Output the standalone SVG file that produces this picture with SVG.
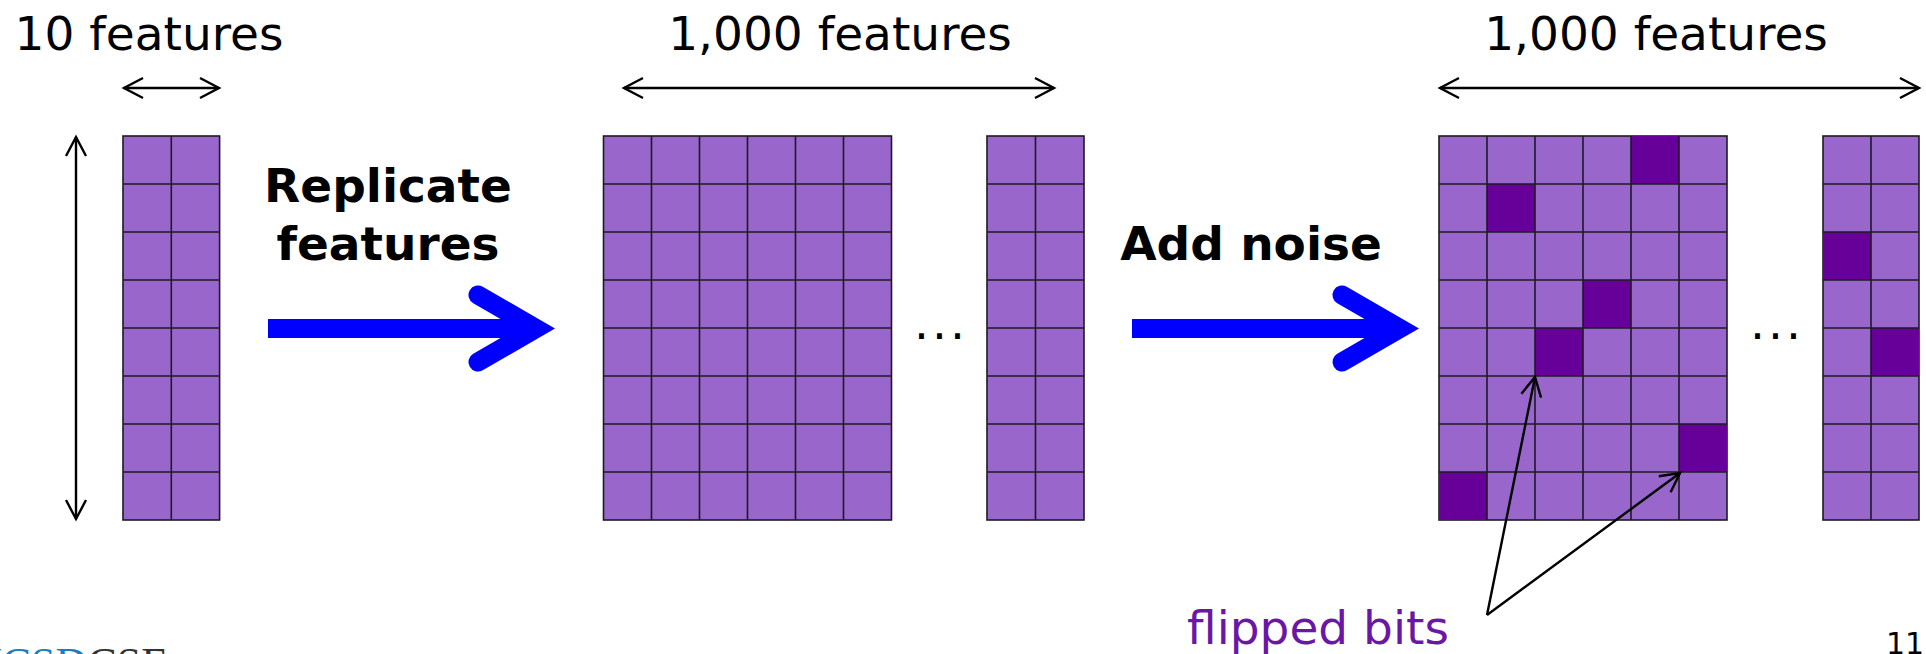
<svg xmlns="http://www.w3.org/2000/svg" width="1926" height="654" viewBox="0 0 1926 654">
  <style>
    .lbl { font-family: "DejaVu Sans", Verdana, sans-serif; font-size: 47px; fill: #000; }
    .bold { font-family: "DejaVu Sans", Verdana, sans-serif; font-size: 47px; font-weight: bold; fill: #000; }
    .cell { fill: #9966CC; stroke: #1e1a24; stroke-width: 1.6; }
    .flip { fill: #660099; }
    .gridline { fill: none; stroke: #1e1a24; stroke-width: 1.6; }
    .dim { fill: none; stroke: #000; stroke-width: 2.4; marker-start: url(#open); marker-end: url(#open); }
    .ptr { fill: none; stroke: #000; stroke-width: 2.4; marker-end: url(#open); }
    .blue-shaft { fill: #0000FF; }
    .blue-head { fill: none; stroke: #0000FF; stroke-width: 19; stroke-linecap: round; stroke-linejoin: miter; }
  </style>
  <defs>
    <marker id="open" markerUnits="userSpaceOnUse" markerWidth="30" markerHeight="30" viewBox="-25 -15 30 30" refX="0" refY="0" orient="auto-start-reverse">
      <path d="M -19 -10 L 0 0 L -19 10" fill="none" stroke="#000" stroke-width="2.4"/>
    </marker>
  </defs>

  <rect width="1926" height="654" fill="#FFFFFF"/>

  <!-- dimension labels -->
  <g id="label-10">
    <text class="lbl" x="149" y="50" text-anchor="middle">10 features</text>
  </g>
  <g id="label-1000-a">
    <text class="lbl" x="840" y="50" text-anchor="middle">1,000 features</text>
  </g>
  <g id="label-1000-b">
    <text class="lbl" x="1656" y="50" text-anchor="middle">1,000 features</text>
  </g>

  <!-- original 10-feature matrix -->
  <g id="matrix-original">
    <rect class="cell" x="123" y="136" width="96.6" height="384"/>
    <path class="gridline" d="M171.3 136V520M123 184h96.6M123 232h96.6M123 280h96.6M123 328h96.6M123 376h96.6M123 424h96.6M123 472h96.6"/>
  </g>

  <!-- step 1 -->
  <g id="step-replicate">
    <text class="bold" x="388" y="202" text-anchor="middle">Replicate</text>
    <text class="bold" x="388" y="260" text-anchor="middle">features</text>
    <rect class="blue-shaft" x="268" y="319" width="262" height="19"/>
    <polyline class="blue-head" points="478,295 536,328.5 478,362"/>
  </g>

  <!-- replicated matrix -->
  <g id="matrix-replicated">
    <rect class="cell" x="603.5" y="136" width="288" height="384"/>
    <path class="gridline" d="M651.5 136V520M699.5 136V520M747.5 136V520M795.5 136V520M843.5 136V520M603.5 184h288M603.5 232h288M603.5 280h288M603.5 328h288M603.5 376h288M603.5 424h288M603.5 472h288"/>
    <text class="lbl" x="914" y="339" letter-spacing="3">...</text>
    <rect class="cell" x="987" y="136" width="97" height="384"/>
    <path class="gridline" d="M1035.5 136V520M987 184h97M987 232h97M987 280h97M987 328h97M987 376h97M987 424h97M987 472h97"/>
  </g>

  <!-- step 2 -->
  <g id="step-noise">
    <text class="bold" x="1251" y="260" text-anchor="middle">Add noise</text>
    <rect class="blue-shaft" x="1132" y="319" width="262" height="19"/>
    <polyline class="blue-head" points="1342,295 1400,328.5 1342,362"/>
  </g>

  <!-- noisy matrix -->
  <g id="matrix-noisy">
    <rect class="cell" x="1439" y="136" width="288" height="384"/>
    <rect class="flip" x="1631" y="136" width="48" height="48"/>
    <rect class="flip" x="1487" y="184" width="48" height="48"/>
    <rect class="flip" x="1583" y="280" width="48" height="48"/>
    <rect class="flip" x="1535" y="328" width="48" height="48"/>
    <rect class="flip" x="1679" y="424" width="48" height="48"/>
    <rect class="flip" x="1439" y="472" width="48" height="48"/>
    <path class="gridline" d="M1487 136V520M1535 136V520M1583 136V520M1631 136V520M1679 136V520M1439 184h288M1439 232h288M1439 280h288M1439 328h288M1439 376h288M1439 424h288M1439 472h288"/>
    <text class="lbl" x="1750" y="339" letter-spacing="3">...</text>
    <rect class="cell" x="1823" y="136" width="96" height="384"/>
    <rect class="flip" x="1823" y="232" width="48" height="48"/>
    <rect class="flip" x="1871" y="328" width="48" height="48"/>
    <path class="gridline" d="M1871 136V520M1823 184h96M1823 232h96M1823 280h96M1823 328h96M1823 376h96M1823 424h96M1823 472h96"/>
  </g>

  <g id="label-flipped">
    <text class="lbl" x="1318" y="644" text-anchor="middle" style="fill:#6B17A6">flipped bits</text>
  </g>

  <!-- connectors -->
  <g id="connectors">
    <line class="dim" x1="124" y1="88" x2="219" y2="88"/>
    <line class="dim" x1="76" y1="137" x2="76" y2="519"/>
    <line class="dim" x1="624" y1="88" x2="1054" y2="88"/>
    <line class="dim" x1="1440" y1="88" x2="1919" y2="88"/>
    <line class="ptr" x1="1487" y1="615" x2="1535" y2="377"/>
    <line class="ptr" x1="1487" y1="615" x2="1680" y2="473"/>
  </g>

  <!-- footer: logo wordmark and page number, both running off the bottom edge -->
  <g id="footer">
    <text x="-30" y="678" style="font-family:'Liberation Serif',serif;font-size:44px"><tspan fill="#1B7DBF">UCSD</tspan><tspan fill="#333333">CSE</tspan></text>
    <text x="1886" y="654" style="font-family:'DejaVu Sans',Verdana,sans-serif;font-size:30px;fill:#000">11</text>
  </g>
</svg>
